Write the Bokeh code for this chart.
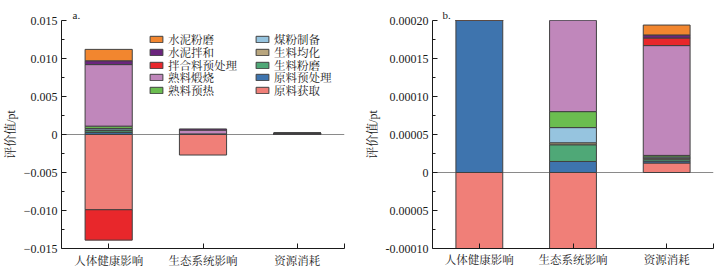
import numpy as np
from bokeh.plotting import figure
from bokeh.models import (ColumnDataSource, Legend, LegendItem, Span, FixedTicker,
                          Range1d)
from bokeh.layouts import row
from bokeh.embed import file_html
from bokeh.resources import INLINE

# ---------------- data ----------------
categories = ["人体健康影响", "生态系统影响", "资源消耗"]
stages = ["原料获取", "原料预处理", "生料粉磨", "生料均化", "煤粉制备",
          "熟料预热", "熟料煅烧", "拌合料预处理", "水泥拌和", "水泥粉磨"]

raw_acquisition = [-0.0099, -0.0027, 0.0000125]
raw_pretreatment = [0.00025, 0.0000145, 0.0000025]
raw_meal_grinding = [0.00025, 0.000022, 0.0000025]
raw_meal_homogenization = [0.0001, 0.0000026, 0.0000015]
coal_preparation = [0.0002, 0.00002, 0.0000015]
clinker_preheating = [0.0003, 0.000021, 0.000002]
clinker_calcination = [0.0081, 0.0005, 0.0001445]
mix_pretreatment = [-0.0040, 0.0, 0.00001]
cement_mixing = [0.0005, 0.00015, 0.000004]
cement_grinding = [0.0015, 0.0, 0.000013]

stage_values = [raw_acquisition, raw_pretreatment, raw_meal_grinding,
                raw_meal_homogenization, coal_preparation, clinker_preheating,
                clinker_calcination, mix_pretreatment, cement_mixing, cement_grinding]

stage_colors = ["#F07F78", "#3E74AE", "#4FA877", "#B9A67E", "#96C4DF",
                "#6BBD50", "#C087BB", "#E8272B", "#6B247D", "#F2862F"]

a_yticks = [-0.015, -0.01, -0.005, 0.0, 0.005, 0.01, 0.015]
a_ylabels = ["\u22120.015", "\u22120.010", "\u22120.005", "0", "0.005", "0.010", "0.015"]
b_yticks = [-0.0001, -0.00005, 0.0, 0.00005, 0.0001, 0.00015, 0.0002]
b_ylabels = ["-0.00010", "0.00005", "0", "0.00005", "0.00010", "0.00015", "0.00020"]

SERIF = "'Times New Roman', 'Liberation Serif', 'Noto Serif CJK SC', 'Noto Sans CJK SC'"
INK = "#1a1a1a"


def stacked_sources():
    n = len(categories)
    pos = np.zeros(n)
    neg = np.zeros(n)
    out = []
    for vals in stage_values:
        v = np.array(vals, dtype=float)
        bottom = np.where(v >= 0, pos, neg + v)
        top = np.where(v >= 0, pos + v, neg)
        pos = np.where(v >= 0, pos + v, pos)
        neg = np.where(v < 0, neg + v, neg)
        keep = v != 0
        xs = (np.arange(n) + 0.5)[keep]
        out.append(ColumnDataSource(dict(x=xs, bottom=bottom[keep], top=top[keep])))
    return out


def make_panel(width, yr, yticks, ylabels, bl, br, bt, bb, tag, tag_offset, label_standoff):
    p = figure(width=width, height=276, x_range=Range1d(0, 3), y_range=Range1d(*yr),
               output_backend="svg", toolbar_location=None,
               min_border_left=bl, min_border_right=br, min_border_top=bt,
               min_border_bottom=bb, title=tag, title_location="above")
    p.title.text_font = SERIF
    p.title.text_font_size = "11px"
    p.title.text_font_style = "normal"
    p.title.text_color = INK
    p.title.offset = tag_offset
    p.title.standoff = 0
    p.xgrid.visible = False
    p.ygrid.visible = False
    p.outline_line_color = None
    p.background_fill_color = "white"
    p.border_fill_color = "white"

    p.add_layout(Span(location=0, dimension="width", line_color="#8a8a8a",
                      line_width=1, level="underlay"))

    renderers = []
    for src, col in zip(stacked_sources(), stage_colors):
        r = p.vbar(x="x", bottom="bottom", top="top", width=0.5, source=src,
                   fill_color=col, line_color="#404040", line_width=1)
        renderers.append(r)

    step = yticks[1] - yticks[0]
    minors = [t + step / 2 for t in yticks[:-1]]
    p.yaxis.ticker = FixedTicker(ticks=yticks, minor_ticks=minors)
    p.yaxis.major_label_overrides = {t: l for t, l in zip(yticks, ylabels)}
    p.yaxis.major_tick_in = 5
    p.yaxis.major_tick_out = 0
    p.yaxis.minor_tick_in = 3
    p.yaxis.minor_tick_out = 0
    p.yaxis.axis_label = "评价值/pt"
    p.yaxis.axis_label_text_font = SERIF
    p.yaxis.axis_label_text_font_style = "normal"
    p.yaxis.axis_label_text_font_size = "12px"
    p.yaxis.axis_label_text_color = INK
    p.yaxis.axis_label_standoff = 3
    p.yaxis.major_label_text_font = SERIF
    p.yaxis.major_label_text_font_size = "12px"
    p.yaxis.major_label_text_color = INK
    p.yaxis.major_label_standoff = 4
    p.yaxis.axis_line_color = INK
    p.yaxis.major_tick_line_color = INK
    p.yaxis.minor_tick_line_color = INK

    centers = [i + 0.5 for i in range(len(categories))]
    p.xaxis.ticker = FixedTicker(ticks=centers, minor_ticks=[3.0])
    p.xaxis.major_label_overrides = {c: name for c, name in zip(centers, categories)}
    p.xaxis.major_tick_in = 5
    p.xaxis.major_tick_out = 0
    p.xaxis.minor_tick_in = 5
    p.xaxis.minor_tick_out = 0
    p.xaxis.major_label_text_font = SERIF
    p.xaxis.major_label_text_font_size = "11.5px"
    p.xaxis.major_label_text_color = INK
    p.xaxis.major_label_standoff = label_standoff
    p.xaxis.axis_line_color = INK
    p.xaxis.major_tick_line_color = INK
    p.xaxis.minor_tick_line_color = INK
    return p, renderers


pa, ra = make_panel(360, (-0.015, 0.015), a_yticks, a_ylabels, 59, 16, 18, 28,
                    "a.", 11, 6)
pb, rb = make_panel(367, (-0.0001, 0.0002), b_yticks, b_ylabels, 72, 14, 20, 28,
                    "b.", 10, 5)

# legend in panel a: two columns of single-item legends, reversed stacking order
order = list(range(len(stages)))[::-1]
columns = [(order[:5], 87), (order[5:], 193)]
item_h = 16
pitch = 12.7
first_center = 21.3   # px below the frame top
frame_h = 276 - 18 - 28
for cols, x0 in columns:
    for k, i in enumerate(cols):
        lg = Legend(items=[LegendItem(label=stages[i], renderers=[ra[i]])],
                    location=(x0, frame_h - (first_center + k * pitch) - item_h / 2),
                    orientation="vertical", border_line_alpha=0,
                    background_fill_alpha=0, padding=0, margin=0, spacing=0,
                    glyph_width=16, glyph_height=8, label_height=item_h,
                    label_standoff=4, label_text_font=SERIF,
                    label_text_font_size="11.5px", label_text_color=INK)
        pa.add_layout(lg, "center")

layout = row(pa, pb)
open("out.html", "w").write(file_html(layout, INLINE))
